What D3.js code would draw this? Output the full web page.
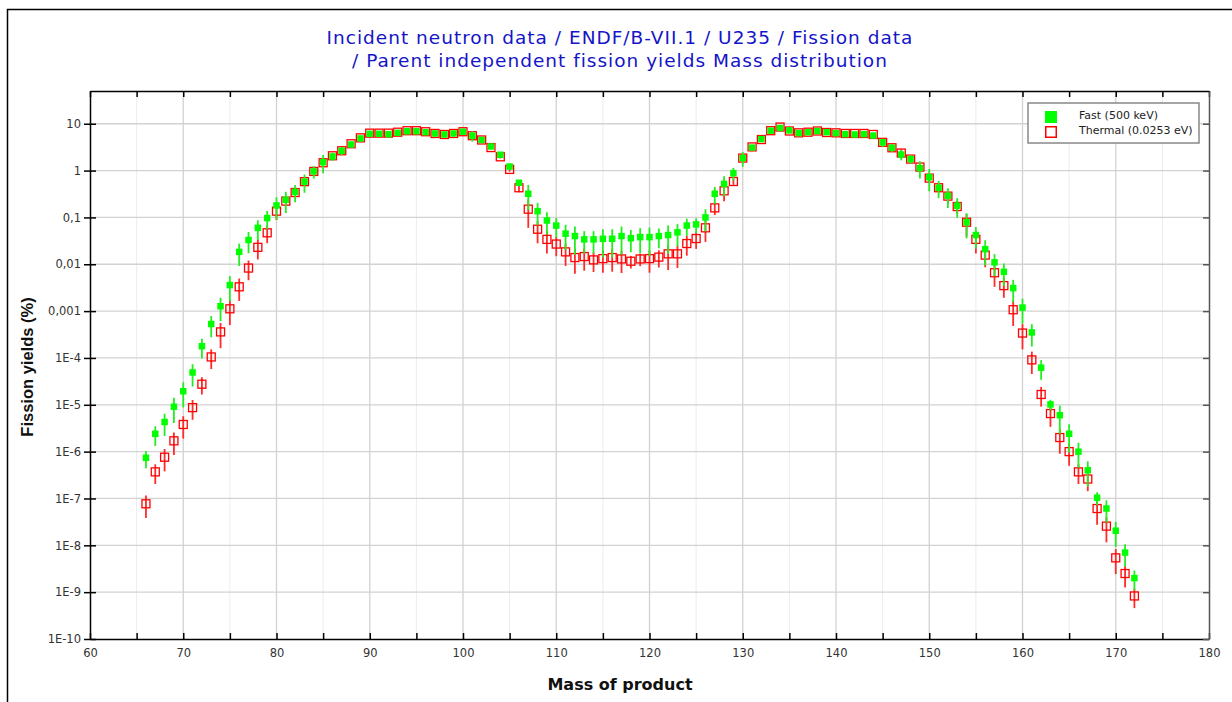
<!DOCTYPE html>
<html>
<head>
<meta charset="utf-8">
<script src="https://cdn.jsdelivr.net/npm/d3@7"></script>
<style>
    body { margin: 0; background: #fff; }
    svg text { font-family: "DejaVu Sans", sans-serif; }
</style>
</head>
<body>
<svg id="chart" width="1232" height="702"></svg>
<script>
// Mass numbers of the fission products
const massNumbers = [
    66, 67, 68, 69, 70, 71, 72, 73, 74, 75, 76, 77, 78, 79, 80, 81, 82, 83, 84, 85,
    86, 87, 88, 89, 90, 91, 92, 93, 94, 95, 96, 97, 98, 99, 100, 101, 102, 103, 104, 105,
    106, 107, 108, 109, 110, 111, 112, 113, 114, 115, 116, 117, 118, 119, 120, 121, 122, 123, 124, 125,
    126, 127, 128, 129, 130, 131, 132, 133, 134, 135, 136, 137, 138, 139, 140, 141, 142, 143, 144, 145,
    146, 147, 148, 149, 150, 151, 152, 153, 154, 155, 156, 157, 158, 159, 160, 161, 162, 163, 164, 165,
    166, 167, 168, 169, 170, 171, 172
];

// Fast (500 keV) yields in %
const fastYields = [
    7.4e-7, 2.4e-6, 4.3e-6, 9.1e-6, 1.95e-5, 4.9e-5, 1.78e-4, 5.3e-4, 1.27e-3, 3.6e-3,
    1.84e-2, 3.3e-2, 6.0e-2, 9.7e-2, 0.18, 0.238, 0.35, 0.58, 0.96, 1.51,
    2.0, 2.65, 3.6, 4.85, 6.1, 6.1, 6.0, 6.4, 6.9, 6.9,
    6.6, 6.2, 5.9, 6.2, 6.75, 5.55, 4.5, 3.27, 2.18, 1.22,
    0.55, 0.32, 0.136, 0.086, 0.067, 0.045, 0.040, 0.034, 0.034, 0.035,
    0.035, 0.040, 0.036, 0.038, 0.038, 0.040, 0.042, 0.048, 0.067, 0.071,
    0.10, 0.32, 0.52, 0.88, 1.85, 3.1, 4.7, 7.1, 8.1, 7.2,
    6.3, 6.6, 7.0, 6.6, 6.3, 6.0, 5.9, 6.0, 5.6, 4.0,
    3.07, 2.2, 1.76, 1.13, 0.72, 0.43, 0.29, 0.178, 0.079, 0.042,
    0.021, 0.011, 0.0069, 0.0031, 1.19e-3, 3.5e-4, 6.2e-5, 1.02e-5, 6.0e-6, 2.4e-6,
    1.0e-6, 4.0e-7, 1.04e-7, 6.1e-8, 2.05e-8, 7.0e-9, 2.0e-9
];

// Relative uncertainties of the fast yields
const fastErrors = [
    0.4, 0.45, 0.5, 0.55, 0.55, 0.5, 0.45, 0.48, 0.52, 0.55,
    0.5, 0.48, 0.45, 0.42, 0.5, 0.48, 0.4, 0.42, 0.3, 0.42,
    0.2, 0.2, 0.1, 0.08, 0.06, 0.06, 0.15, 0.05, 0.04, 0.04,
    0.05, 0.15, 0.05, 0.06, 0.05, 0.25, 0.1, 0.1, 0.1, 0.15,
    0.1, 0.55, 0.5, 0.5, 0.45, 0.55, 0.6, 0.5, 0.5, 0.6,
    0.6, 0.6, 0.5, 0.55, 0.6, 0.45, 0.6, 0.5, 0.4, 0.35,
    0.5, 0.4, 0.45, 0.3, 0.35, 0.1, 0.08, 0.04, 0.04, 0.05,
    0.1, 0.05, 0.04, 0.1, 0.05, 0.05, 0.05, 0.05, 0.1, 0.2,
    0.2, 0.25, 0.2, 0.4, 0.5, 0.4, 0.45, 0.45, 0.55, 0.48,
    0.55, 0.5, 0.5, 0.5, 0.55, 0.5, 0.45, 0.25, 0.6, 0.6,
    0.55, 0.55, 0.3, 0.5, 0.55, 0.5, 0.45
];

// Thermal (0.0253 eV) yields in %
const thermalYields = [
    7.7e-8, 3.7e-7, 7.6e-7, 1.7e-6, 3.8e-6, 8.7e-6, 2.75e-5, 1.05e-4, 3.6e-4, 1.12e-3,
    3.3e-3, 8.3e-3, 2.3e-2, 4.7e-2, 0.136, 0.223, 0.34, 0.58, 0.96, 1.47,
    2.07, 2.65, 3.74, 5.0, 6.3, 6.3, 6.3, 6.6, 7.1, 7.1,
    6.75, 6.2, 5.9, 6.2, 6.75, 5.55, 4.5, 3.1, 1.97, 1.06,
    0.43, 0.15, 0.056, 0.034, 0.027, 0.0184, 0.0139, 0.0146, 0.0124, 0.0132,
    0.0139, 0.013, 0.0116, 0.013, 0.0132, 0.0142, 0.0167, 0.0167, 0.0277, 0.0354,
    0.06, 0.16, 0.37, 0.585, 1.85, 3.2, 4.6, 7.1, 8.5, 7.0,
    6.4, 6.6, 7.0, 6.5, 6.4, 6.2, 6.2, 6.2, 5.9, 4.0,
    3.07, 2.37, 1.76, 1.19, 0.69, 0.43, 0.285, 0.171, 0.079, 0.034,
    0.0157, 0.0066, 0.0035, 1.07e-3, 3.4e-4, 9.1e-5, 1.66e-5, 6.5e-6, 2.0e-6, 1.0e-6,
    3.7e-7, 2.6e-7, 6.1e-8, 2.57e-8, 5.4e-9, 2.5e-9, 8.3e-10
];

// Relative uncertainties of the thermal yields
const thermalErrors = [
    0.5, 0.45, 0.5, 0.5, 0.5, 0.45, 0.4, 0.45, 0.55, 0.55,
    0.5, 0.45, 0.45, 0.4, 0.35, 0.2, 0.1, 0.1, 0.08, 0.1,
    0.06, 0.06, 0.05, 0.04, 0.03, 0.03, 0.03, 0.03, 0.03, 0.03,
    0.03, 0.03, 0.03, 0.03, 0.03, 0.05, 0.05, 0.05, 0.08, 0.1,
    0.2, 0.6, 0.5, 0.5, 0.45, 0.5, 0.55, 0.5, 0.45, 0.5,
    0.5, 0.5, 0.3, 0.3, 0.5, 0.4, 0.55, 0.5, 0.45, 0.4,
    0.5, 0.3, 0.4, 0.15, 0.05, 0.05, 0.04, 0.03, 0.03, 0.03,
    0.03, 0.03, 0.03, 0.03, 0.03, 0.03, 0.03, 0.03, 0.03, 0.05,
    0.05, 0.2, 0.1, 0.15, 0.2, 0.2, 0.3, 0.3, 0.5, 0.5,
    0.45, 0.5, 0.45, 0.55, 0.55, 0.5, 0.45, 0.48, 0.55, 0.5,
    0.45, 0.45, 0.55, 0.55, 0.55, 0.5, 0.45
];

// Axis ticks
const xMajorTicks = [60, 70, 80, 90, 100, 110, 120, 130, 140, 150, 160, 170, 180];
const xAllTicks = [60, 65, 70, 75, 80, 85, 90, 95, 100, 105, 110, 115, 120, 125, 130, 135, 140, 145, 150, 155, 160, 165, 170, 175, 180];
const yTickValues = [10, 1, 0.1, 0.01, 0.001, 1e-4, 1e-5, 1e-6, 1e-7, 1e-8, 1e-9, 1e-10];
const yTickLabels = ['10', '1', '0,1', '0,01', '0,001', '1E-4', '1E-5', '1E-6', '1E-7', '1E-8', '1E-9', '1E-10'];

const titleLines = [
    'Incident neutron data / ENDF/B-VII.1 / U235 / Fission data',
    '/ Parent independent fission yields Mass distribution'
];
const seriesNames = ['Fast (500 keV)', 'Thermal (0.0253 eV)'];

// ---------------------------------------------------------------
const svg = d3.select('#chart');
const plot = { left: 90, right: 1209, top: 91, bottom: 639 };

const xScale = d3.scaleLinear().domain([60, 180]).range([plot.left, plot.right]);
const yScale = d3.scaleLog().domain([1e-10, 50]).range([plot.bottom, plot.top]);

// Outer frame
svg.append('rect')
    .attr('x', 7.5).attr('y', 9.5)
    .attr('width', 1400).attr('height', 900)
    .attr('fill', 'none').attr('stroke', '#000').attr('stroke-width', 1.5);

// Grid
const grid = svg.append('g').attr('class', 'grid');
grid.selectAll('line.vminor')
    .data(xAllTicks.filter(d => xMajorTicks.indexOf(d) < 0))
    .enter().append('line')
    .attr('x1', d => xScale(d)).attr('x2', d => xScale(d))
    .attr('y1', plot.top).attr('y2', plot.bottom)
    .attr('stroke', '#ececec').attr('stroke-width', 1);
grid.selectAll('line.vmajor')
    .data(xMajorTicks.slice(1, -1))
    .enter().append('line')
    .attr('x1', d => xScale(d)).attr('x2', d => xScale(d))
    .attr('y1', plot.top).attr('y2', plot.bottom)
    .attr('stroke', '#d2d2d2').attr('stroke-width', 1.3);
grid.selectAll('line.h')
    .data(yTickValues.slice(0, -1))
    .enter().append('line')
    .attr('x1', plot.left).attr('x2', plot.right)
    .attr('y1', d => yScale(d)).attr('y2', d => yScale(d))
    .attr('stroke', '#d2d2d2').attr('stroke-width', 1.3);

// Axes
const yAxisG = svg.append('g')
    .attr('transform', `translate(${plot.left},0)`)
    .call(d3.axisLeft(yScale)
        .tickValues(yTickValues)
        .tickFormat((d, i) => yTickLabels[i])
        .tickSize(6).tickSizeOuter(0).tickPadding(3));
yAxisG.selectAll('.tick line').attr('x1', 6);

const xAxisG = svg.append('g')
    .attr('transform', `translate(0,${plot.bottom})`)
    .call(d3.axisBottom(xScale)
        .tickValues(xAllTicks)
        .tickFormat(d => xMajorTicks.indexOf(d) >= 0 ? d : '')
        .tickSize(-6).tickSizeOuter(0).tickPadding(10));

const topAxisG = svg.append('g')
    .attr('transform', `translate(0,${plot.top})`)
    .call(d3.axisTop(xScale).tickValues(xAllTicks).tickFormat('').tickSize(-6).tickSizeOuter(0));

const rightAxisG = svg.append('g')
    .attr('transform', `translate(${plot.right},0)`)
    .call(d3.axisRight(yScale).tickValues(yTickValues).tickFormat('').tickSize(-6).tickSizeOuter(0));
rightAxisG.selectAll('path, line').attr('stroke', '#555');

[yAxisG, xAxisG, topAxisG, rightAxisG].forEach(g => {
    g.select('.domain').attr('stroke-width', 1.5);
    g.selectAll('.tick line').attr('stroke-width', 1.5);
    g.selectAll('text')
        .attr('fill', '#333')
        .style('font-size', '11.5px')
        .style('font-family', '"DejaVu Sans", sans-serif');
});

// Series
const fastData = massNumbers.map((a, i) => ({ a: a, v: fastYields[i], e: fastErrors[i] }));
const thermalData = massNumbers.map((a, i) => ({ a: a, v: thermalYields[i], e: thermalErrors[i] }));

function drawErrorBars(data, colour) {
    svg.append('g').selectAll('line')
        .data(data).enter().append('line')
        .attr('x1', d => xScale(d.a)).attr('x2', d => xScale(d.a))
        .attr('y1', d => yScale(d.v * (1 + d.e)))
        .attr('y2', d => yScale(Math.max(d.v * (1 - d.e), 1e-10)))
        .attr('stroke', colour).attr('stroke-width', 1.8);
}

// Thermal first, fast on top
drawErrorBars(thermalData, '#ff2a2a');
svg.append('g').selectAll('rect')
    .data(thermalData).enter().append('rect')
    .attr('x', d => xScale(d.a) - 4).attr('y', d => yScale(d.v) - 4)
    .attr('width', 8).attr('height', 8)
    .attr('fill', 'none').attr('stroke', '#ff0000').attr('stroke-width', 1.3);

drawErrorBars(fastData, '#22ee22');
svg.append('g').selectAll('rect')
    .data(fastData).enter().append('rect')
    .attr('x', d => xScale(d.a) - 3.25).attr('y', d => yScale(d.v) - 3.25)
    .attr('width', 6.5).attr('height', 6.5)
    .attr('fill', '#00ff00');

// Title
svg.append('g').selectAll('text')
    .data(titleLines).enter().append('text')
    .attr('x', 620).attr('y', (d, i) => 44 + i * 23)
    .attr('text-anchor', 'middle')
    .attr('fill', '#1414c8')
    .style('font-size', '18.5px')
    .style('letter-spacing', '1px')
    .text(d => d);

// Axis titles
svg.append('text')
    .attr('transform', 'translate(33,367) rotate(-90)')
    .attr('text-anchor', 'middle')
    .style('font-family', '"Liberation Sans", Arial, sans-serif')
    .style('font-size', '16.5px').style('font-weight', 'bold')
    .attr('fill', '#111')
    .text('Fission yields (%)');
svg.append('text')
    .attr('x', 620).attr('y', 690)
    .attr('text-anchor', 'middle')
    .style('font-size', '16px').style('font-weight', 'bold')
    .attr('fill', '#111')
    .text('Mass of product');

// Legend
const legend = svg.append('g').attr('transform', 'translate(1028,103)');
legend.append('rect')
    .attr('width', 171).attr('height', 40)
    .attr('fill', '#fff').attr('stroke', '#888').attr('stroke-width', 1.5);
legend.append('rect')
    .attr('x', 17).attr('y', 8).attr('width', 12).attr('height', 12)
    .attr('fill', '#00ff00');
legend.append('rect')
    .attr('x', 17.75).attr('y', 23.75).attr('width', 10.5).attr('height', 10.5)
    .attr('fill', 'none').attr('stroke', '#ff0000').attr('stroke-width', 1.5);
legend.selectAll('text.lbl')
    .data(seriesNames).enter().append('text')
    .attr('x', 51).attr('y', (d, i) => 16 + i * 15)
    .style('font-size', '11px')
    .attr('fill', '#222')
    .text(d => d);
</script>
</body>
</html>
